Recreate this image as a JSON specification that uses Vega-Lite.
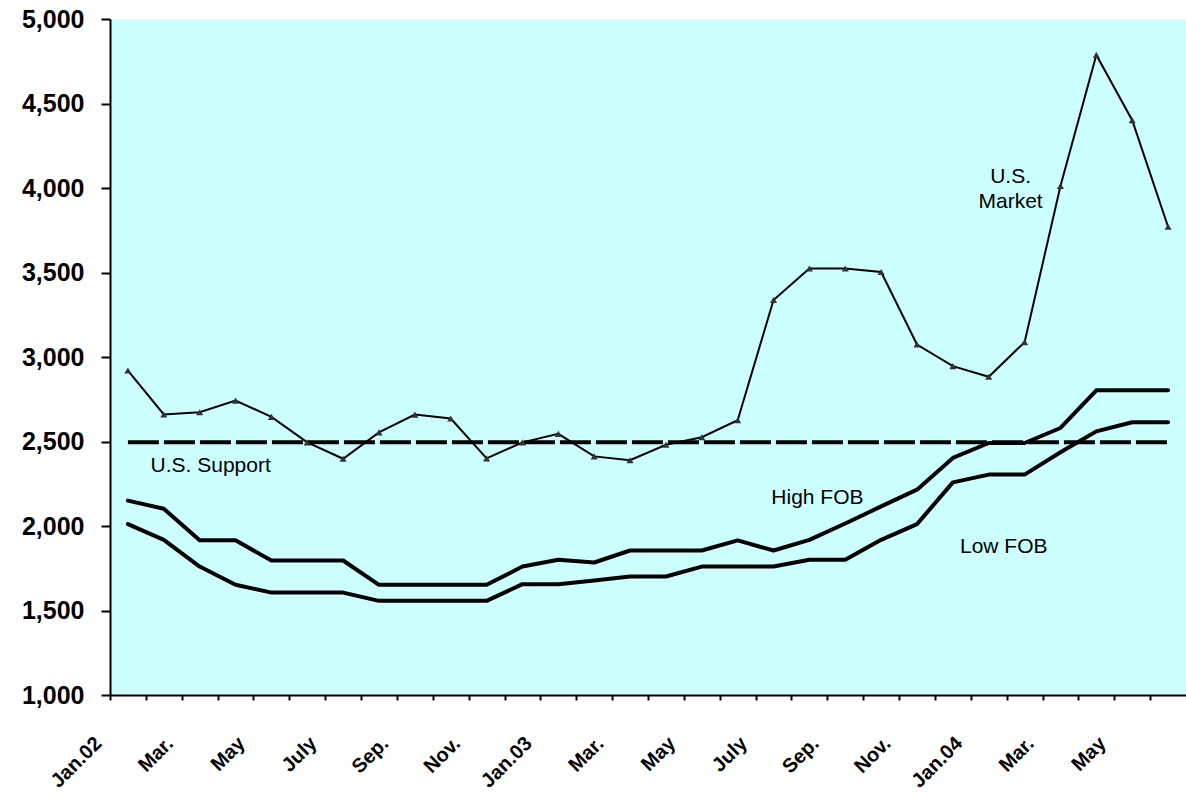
{
  "$schema": "https://vega.github.io/schema/vega-lite/v6.json",
  "width": 1076,
  "height": 676,
  "autosize": {"type": "none"},
  "padding": {"left": 110, "top": 19, "right": 0, "bottom": 103},
  "background": "white",
  "config": {
    "view": {"fill": "#CCFFFF", "stroke": null},
    "font": "Liberation Sans",
    "axis": {"grid": false, "domainColor": "black", "domainWidth": 2, "tickColor": "black", "tickWidth": 2, "labelColor": "black", "labelFont": "Liberation Sans", "labelFontWeight": "bold", "title": null}
  },
  "data": {
    "values": [
      {"month": "2002-01", "market": 2920, "high": 2150, "low": 2011, "support": 2495},
      {"month": "2002-02", "market": 2660, "high": 2102, "low": 1918, "support": 2495},
      {"month": "2002-03", "market": 2673, "high": 1915, "low": 1760, "support": 2495},
      {"month": "2002-04", "market": 2742, "high": 1915, "low": 1652, "support": 2495},
      {"month": "2002-05", "market": 2646, "high": 1796, "low": 1606, "support": 2495},
      {"month": "2002-06", "market": 2495, "high": 1796, "low": 1606, "support": 2495},
      {"month": "2002-07", "market": 2398, "high": 1796, "low": 1606, "support": 2495},
      {"month": "2002-08", "market": 2554, "high": 1652, "low": 1557, "support": 2495},
      {"month": "2002-09", "market": 2659, "high": 1652, "low": 1557, "support": 2495},
      {"month": "2002-10", "market": 2636, "high": 1652, "low": 1557, "support": 2495},
      {"month": "2002-11", "market": 2400, "high": 1652, "low": 1557, "support": 2495},
      {"month": "2002-12", "market": 2495, "high": 1760, "low": 1656, "support": 2495},
      {"month": "2003-01", "market": 2545, "high": 1800, "low": 1656, "support": 2495},
      {"month": "2003-02", "market": 2412, "high": 1784, "low": 1677, "support": 2495},
      {"month": "2003-03", "market": 2389, "high": 1855, "low": 1701, "support": 2495},
      {"month": "2003-04", "market": 2481, "high": 1855, "low": 1701, "support": 2495},
      {"month": "2003-05", "market": 2525, "high": 1855, "low": 1760, "support": 2495},
      {"month": "2003-06", "market": 2626, "high": 1915, "low": 1760, "support": 2495},
      {"month": "2003-07", "market": 3337, "high": 1855, "low": 1760, "support": 2495},
      {"month": "2003-08", "market": 3524, "high": 1918, "low": 1800, "support": 2495},
      {"month": "2003-09", "market": 3524, "high": 2015, "low": 1800, "support": 2495},
      {"month": "2003-10", "market": 3503, "high": 2116, "low": 1918, "support": 2495},
      {"month": "2003-11", "market": 3074, "high": 2215, "low": 2011, "support": 2495},
      {"month": "2003-12", "market": 2946, "high": 2403, "low": 2258, "support": 2495},
      {"month": "2004-01", "market": 2883, "high": 2491, "low": 2304, "support": 2495},
      {"month": "2004-02", "market": 3088, "high": 2491, "low": 2304, "support": 2495},
      {"month": "2004-03", "market": 4012, "high": 2580, "low": 2436, "support": 2495},
      {"month": "2004-04", "market": 4787, "high": 2803, "low": 2560, "support": 2495},
      {"month": "2004-05", "market": 4401, "high": 2803, "low": 2614, "support": 2495},
      {"month": "2004-06", "market": 3771, "high": 2803, "low": 2614, "support": 2495}
    ]
  },
  "encoding": {
    "x": {
      "field": "month",
      "type": "ordinal",
      "scale": {"type": "point", "padding": 0.5},
      "axis": {
        "tickSize": 5,
        "tickOffset": -17.93,
        "labelAngle": -45,
        "labelAlign": "right",
        "labelBaseline": "middle",
        "labelFontSize": 20,
        "labelPadding": 40,
        "labelOffset": -12,
        "labelOverlap": false,
        "labelExpr": "slice(datum.value, 5) == '01' ? 'Jan.' + slice(datum.value, 2, 4) : slice(datum.value, 5) == '03' ? 'Mar.' : slice(datum.value, 5) == '05' ? 'May' : slice(datum.value, 5) == '07' ? 'July' : slice(datum.value, 5) == '09' ? 'Sep.' : slice(datum.value, 5) == '11' ? 'Nov.' : ''"
      }
    }
  },
  "layer": [
    {
      "mark": {"type": "line", "color": "black", "strokeWidth": 4, "strokeDash": [31, 5]},
      "encoding": {
        "y": {
          "field": "support",
          "type": "quantitative",
          "title": null,
          "scale": {"domain": [1000, 5000], "nice": false, "zero": false},
          "axis": {"values": [1000, 1500, 2000, 2500, 3000, 3500, 4000, 4500, 5000], "format": ",d", "labelFontSize": 25, "tickSize": 9, "labelPadding": 17}
        }
      }
    },
    {
      "mark": {"type": "line", "color": "black", "strokeWidth": 4, "strokeCap": "round", "strokeJoin": "round"},
      "encoding": {"y": {"field": "high", "type": "quantitative", "title": null}}
    },
    {
      "mark": {"type": "line", "color": "black", "strokeWidth": 4, "strokeCap": "round", "strokeJoin": "round"},
      "encoding": {"y": {"field": "low", "type": "quantitative", "title": null}}
    },
    {
      "mark": {"type": "line", "color": "black", "strokeWidth": 2},
      "encoding": {"y": {"field": "market", "type": "quantitative", "title": null}}
    },
    {
      "mark": {"type": "point", "shape": "triangle-up", "filled": true, "color": "#333333", "size": 50, "opacity": 1},
      "encoding": {"y": {"field": "market", "type": "quantitative", "title": null}}
    },
    {
      "data": {"values": [{"month": "2002-03", "value": 2357, "text": "U.S. Support"}]},
      "mark": {"type": "text", "fontSize": 21, "color": "black", "align": "center", "baseline": "middle", "dx": 11},
      "encoding": {"y": {"field": "value", "type": "quantitative", "title": null}, "text": {"field": "text"}}
    },
    {
      "data": {"values": [{"month": "2003-08", "value": 2167, "text": "High FOB"}]},
      "mark": {"type": "text", "fontSize": 21, "color": "black", "align": "center", "baseline": "middle", "dx": 8},
      "encoding": {"y": {"field": "value", "type": "quantitative", "title": null}, "text": {"field": "text"}}
    },
    {
      "data": {"values": [{"month": "2004-01", "value": 1875, "text": "Low FOB"}]},
      "mark": {"type": "text", "fontSize": 21, "color": "black", "align": "center", "baseline": "middle", "dx": 15},
      "encoding": {"y": {"field": "value", "type": "quantitative", "title": null}, "text": {"field": "text"}}
    },
    {
      "data": {"values": [{"month": "2004-02", "value": 4064, "text": "U.S."}, {"month": "2004-02", "value": 3916, "text": "Market"}]},
      "mark": {"type": "text", "fontSize": 21, "color": "black", "align": "center", "baseline": "middle", "dx": -14},
      "encoding": {"y": {"field": "value", "type": "quantitative", "title": null}, "text": {"field": "text"}}
    }
  ]
}
